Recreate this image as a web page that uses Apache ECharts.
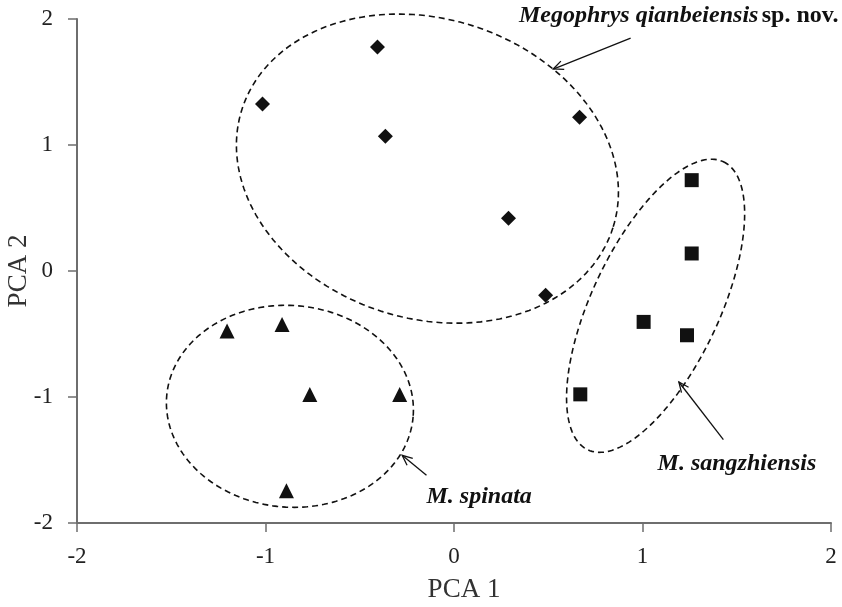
<!DOCTYPE html>
<html>
<head>
<meta charset="utf-8">
<script src="https://cdn.jsdelivr.net/npm/echarts@6/dist/echarts.min.js"></script>
<style>html,body{margin:0;padding:0;background:#fff}#c{width:842px;height:607px}</style>
</head>
<body>
<div id="c"></div>
<script>
// ---- data ----
const xTickValues = [-2, -1, 0, 1, 2];
const yTickValues = [-2, -1, 0, 1, 2];
const qianbeiensis = [[-1.016, 1.325], [-0.406, 1.777], [-0.364, 1.070], [0.666, 1.221], [0.289, 0.419], [0.486, -0.192]];
const sangzhiensis = [[1.261, 0.721], [1.261, 0.139], [1.006, -0.404], [1.236, -0.510], [0.670, -0.979]];
const spinata = [[-1.204, -0.477], [-0.912, -0.424], [-0.765, -0.980], [-0.288, -0.980], [-0.889, -1.745]];
// group ellipses: [centerX, centerY, semiMajor, semiMinor (x-units), rotation deg]
const ellipseQ = [-0.141, 0.8125, 1.033, 0.795, 17.7];
const ellipseS = [1.0695, -0.276, 0.8445, 0.3386, -64.8];
const ellipseP = [-0.8705, -1.074, 0.656, 0.535, 4.85];
// arrows: [fromX, fromY, toX, toY]
const arrows = [[0.937, 1.849, 0.5265, 1.603], [1.429, -1.338, 1.193, -0.881], [-0.146, -1.622, -0.275, -1.463]];
// labels: [x, y, key]
const labelPos = [[0.345, 2.024, 'q'], [1.080, -1.527, 's'], [-0.146, -1.794, 'p']];
const labelTexts = {
  q: '{bi|Megophrys qianbeiensis} {b|sp. nov.}',
  s: '{bi|M. sangzhiensis}',
  p: '{bi|M. spinata}'
};

const SERIF = '"Liberation Serif", "Times New Roman", serif';
const ink = '#111111';

function ellipseRender(params, api) {
  const cx = api.value(0), cy = api.value(1), a = api.value(2), b = api.value(3), rot = api.value(4);
  const c = api.coord([cx, cy]);
  const s = api.size([1, 1]);
  const ap = a * s[0], bp = b * s[0];
  const th = rot * Math.PI / 180;
  const pts = [];
  const N = 180;
  for (let i = 0; i < N; i++) {
    const t = 2 * Math.PI * i / N;
    pts.push([
      c[0] + ap * Math.cos(th) * Math.cos(t) - bp * Math.sin(th) * Math.sin(t),
      c[1] + ap * Math.sin(th) * Math.cos(t) + bp * Math.cos(th) * Math.sin(t)
    ]);
  }
  return {
    type: 'polygon',
    shape: { points: pts },
    style: { fill: null, stroke: ink, lineWidth: 1.6, lineDash: [6, 4] },
    silent: true
  };
}

function arrowRender(params, api) {
  const p1 = api.coord([api.value(0), api.value(1)]);
  const p2 = api.coord([api.value(2), api.value(3)]);
  const ang = Math.atan2(p1[1] - p2[1], p1[0] - p2[0]);
  const L = 11, spread = 0.42;
  const h1 = [p2[0] + L * Math.cos(ang + spread), p2[1] + L * Math.sin(ang + spread)];
  const h2 = [p2[0] + L * Math.cos(ang - spread), p2[1] + L * Math.sin(ang - spread)];
  return {
    type: 'group',
    children: [
      { type: 'line', shape: { x1: p1[0], y1: p1[1], x2: p2[0], y2: p2[1] }, style: { stroke: ink, lineWidth: 1.3 } },
      { type: 'polyline', shape: { points: [h1, p2, h2] }, style: { stroke: ink, lineWidth: 1.3, fill: null } }
    ],
    silent: true
  };
}

function labelRender(params, api) {
  const p = api.coord([api.value(0), api.value(1)]);
  const key = labelPos[params.dataIndex][2];
  return {
    type: 'text',
    x: p[0], y: p[1],
    style: {
      text: labelTexts[key],
      textAlign: 'left',
      textVerticalAlign: 'middle',
      fill: ink,
      rich: {
        bi: { fontFamily: SERIF, fontSize: 24, fontWeight: 'bold', fontStyle: 'italic', fill: ink },
        b: { fontFamily: SERIF, fontSize: 24, fontWeight: 'bold', fill: ink }
      }
    },
    silent: true
  };
}

const chart = echarts.init(document.getElementById('c'), null, { renderer: 'canvas' });
const axisCommon = {
  type: 'value', min: -2, max: 2, interval: 1,
  axisLine: { show: true, onZero: false, lineStyle: { color: '#6e6e6e', width: 2 } },
  axisTick: { show: true, length: 9, lineStyle: { color: '#6e6e6e', width: 1.5 } },
  splitLine: { show: false }
};
chart.setOption({
  animation: false,
  backgroundColor: '#fff',
  grid: { left: 77, right: 11, top: 19, bottom: 84, containLabel: false, outerBoundsMode: 'none' },
  xAxis: Object.assign({}, axisCommon, {
    name: 'PCA 1', nameLocation: 'middle', nameGap: 53,
    nameTextStyle: { fontFamily: SERIF, fontSize: 27, color: '#333', padding: [0, 0, 0, 20] },
    axisLabel: { fontFamily: SERIF, fontSize: 23, color: '#222', margin: 22, formatter: v => xTickValues.includes(v) ? String(v) : '' }
  }),
  yAxis: Object.assign({}, axisCommon, {
    name: 'PCA 2', nameLocation: 'middle', nameGap: 45, nameRotate: 90, nameMoveOverlap: false,
    nameTextStyle: { fontFamily: SERIF, fontSize: 27, color: '#333' },
    axisLabel: { fontFamily: SERIF, fontSize: 23, color: '#222', margin: 24, formatter: v => yTickValues.includes(v) ? String(v) : '' }
  }),
  series: [
    { type: 'custom', name: 'ellipses', renderItem: ellipseRender, data: [ellipseQ, ellipseS, ellipseP], clip: false, z: 1 },
    { type: 'scatter', name: 'Megophrys qianbeiensis', data: qianbeiensis, symbol: 'diamond', symbolSize: 15, itemStyle: { color: ink, opacity: 1 }, z: 3 },
    { type: 'scatter', name: 'M. sangzhiensis', data: sangzhiensis, symbol: 'rect', symbolSize: 14, itemStyle: { color: ink, opacity: 1 }, z: 3 },
    { type: 'scatter', name: 'M. spinata', data: spinata, symbol: 'triangle', symbolSize: 15, itemStyle: { color: ink, opacity: 1 }, z: 3 },
    { type: 'custom', name: 'arrows', renderItem: arrowRender, data: arrows, clip: false, z: 2 },
    { type: 'custom', name: 'labels', renderItem: labelRender, data: labelPos.map(d => [d[0], d[1]]), clip: false, z: 4 }
  ]
});
</script>
</body>
</html>
